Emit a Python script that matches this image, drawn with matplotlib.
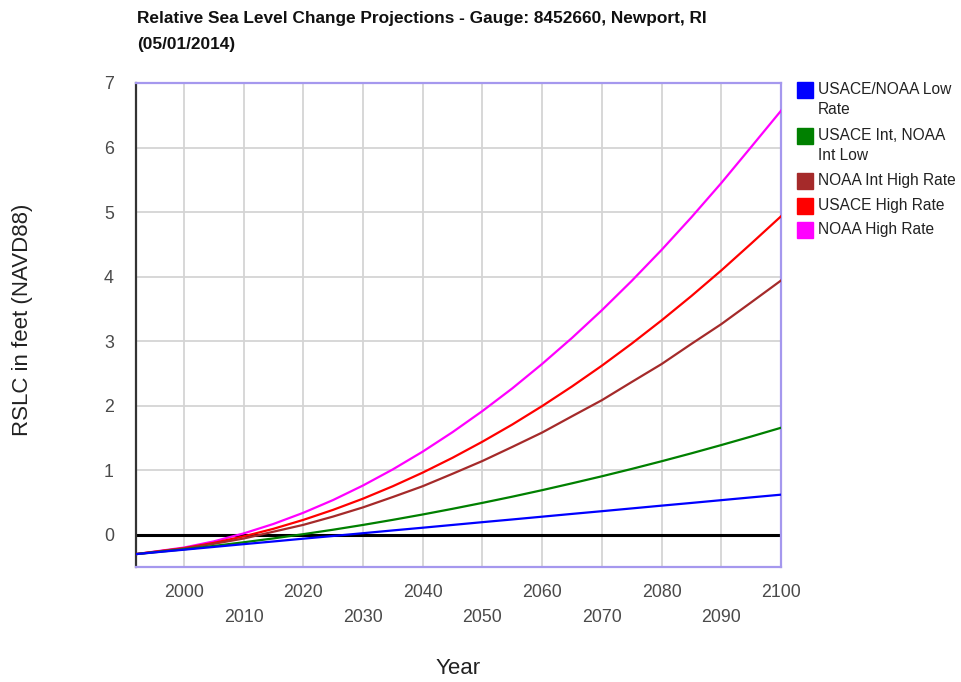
import matplotlib.pyplot as plt
from matplotlib.patches import Rectangle

plt.rcParams['font.family'] = ['Liberation Sans', 'DejaVu Sans']

# Data (feet, NAVD88)
years = [1992, 2000, 2005, 2010, 2015, 2020, 2025, 2030, 2035, 2040, 2045, 2050,
         2055, 2060, 2065, 2070, 2075, 2080, 2085, 2090, 2095, 2100]
low = [-0.300, -0.232, -0.189, -0.146, -0.104, -0.061, -0.019, 0.024, 0.067, 0.109,
       0.152, 0.195, 0.237, 0.280, 0.323, 0.365, 0.408, 0.451, 0.493, 0.536, 0.579, 0.621]
int_low = [-0.30, -0.226, -0.174, -0.117, -0.057, 0.009, 0.078, 0.152, 0.231, 0.314,
           0.402, 0.494, 0.590, 0.691, 0.797, 0.906, 1.020, 1.139, 1.262, 1.390, 1.522, 1.658]
int_high = [-0.30, -0.213, -0.141, -0.059, 0.047, 0.153, 0.282, 0.424, 0.585, 0.752,
            0.945, 1.143, 1.361, 1.584, 1.836, 2.085, 2.367, 2.645, 2.958, 3.264, 3.601, 3.940]
usace_high = [-0.30, -0.208, -0.126, -0.026, 0.092, 0.230, 0.386, 0.559, 0.752, 0.963,
              1.193, 1.442, 1.708, 1.994, 2.298, 2.620, 2.962, 3.322, 3.700, 4.096, 4.512, 4.935]
noaa_high = [-0.30, -0.199, -0.103, 0.020, 0.167, 0.340, 0.538, 0.763, 1.013, 1.288,
             1.590, 1.917, 2.268, 2.647, 3.050, 3.479, 3.934, 4.414, 4.920, 5.451, 6.009, 6.571]

series = [low, int_low, int_high, usace_high, noaa_high]
labels = ['USACE/NOAA Low\nRate', 'USACE Int, NOAA\nInt Low', 'NOAA Int High Rate',
          'USACE High Rate', 'NOAA High Rate']
colors = ['#0000ff', '#008000', '#a52a2a', '#ff0000', '#ff00ff']

major_years = [2000, 2020, 2040, 2060, 2080, 2100]
minor_years = [2010, 2030, 2050, 2070, 2090]
y_ticks = [0, 1, 2, 3, 4, 5, 6, 7]
baseline = 0

fig = plt.figure(figsize=(9.62, 6.82), dpi=100)
ax = fig.add_axes([0.1414, 0.1686, 0.6705, 0.7097])

ax.axhline(baseline, color='black', lw=2.2, zorder=2)
# draw highest first so blue sits on top, like the original
for vals, c in reversed(list(zip(series, colors))):
    ax.plot(years, vals, color=c, lw=1.6, zorder=3)

ax.set_xlim(1992, 2100)
ax.set_ylim(-0.5, 7)

ax.set_xticks(major_years)
ax.set_xticks(minor_years, minor=True)
ax.set_xticklabels([str(y) for y in major_years])
ax.set_xticklabels([str(y) for y in minor_years], minor=True)
ax.set_yticks(y_ticks)
ax.tick_params(axis='x', which='major', length=0, pad=12, labelsize=12.8, labelcolor='#4a4a4a')
ax.tick_params(axis='x', which='minor', length=0, pad=30, labelsize=12.8, labelcolor='#4a4a4a')
ax.tick_params(axis='y', length=0, pad=16, labelsize=12.8, labelcolor='#4a4a4a')

ax.grid(True, which='both', axis='x', color='#d4d4d4', lw=1.3, zorder=0)
ax.grid(True, which='major', axis='y', color='#d4d4d4', lw=1.3, zorder=0)
ax.set_axisbelow(True)

for side in ['top', 'right', 'bottom']:
    ax.spines[side].set_color('#a598ee')
    ax.spines[side].set_linewidth(1.6)
ax.spines['left'].set_color('#333333')
ax.spines['left'].set_linewidth(1.6)

fig.text(23 / 962, 1 - 320 / 682, 'RSLC in feet (NAVD88)', rotation=90,
         ha='center', va='center', fontsize=16, color='#222222')
fig.text(458 / 962, 1 - 668 / 682, 'Year', ha='center', va='center',
         fontsize=16, color='#222222')

fig.text(137 / 962, 1 - 18 / 682,
         'Relative Sea Level Change Projections - Gauge: 8452660, Newport, RI',
         ha='left', va='center', fontsize=12.4, fontweight='bold', color='#111111')
fig.text(137 / 962, 1 - 44 / 682, '(05/01/2014)', ha='left', va='center',
         fontsize=12.4, fontweight='bold', color='#111111')

# legend drawn by hand: square + label (two-line labels start at the square)
W, H = 962, 682
entry_top = [82, 128, 173, 198, 222]
for top, lab, c in zip(entry_top, labels, colors):
    fig.patches.append(Rectangle((797 / W, 1 - (top + 16) / H), 16 / W, 16 / H,
                                 transform=fig.transFigure, color=c))
    if '\n' in lab:
        fig.text(818 / W, 1 - (top + 0) / H, lab, ha='left', va='top',
                 fontsize=11.2, color='#222222', linespacing=1.45)
    else:
        fig.text(818 / W, 1 - (top + 8) / H, lab, ha='left', va='center',
                 fontsize=11.2, color='#222222')

fig.savefig('out.png', dpi=100)
